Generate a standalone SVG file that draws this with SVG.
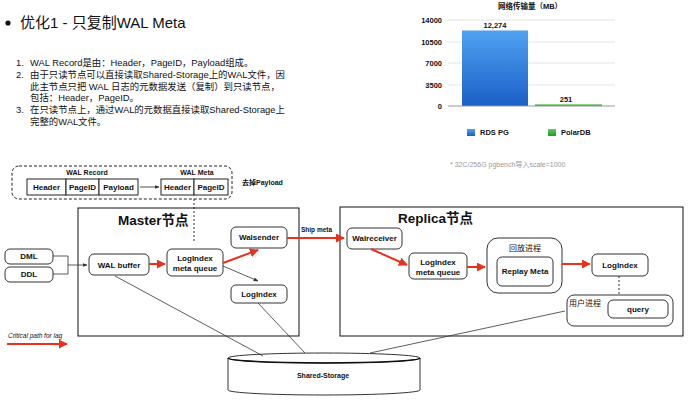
<svg xmlns="http://www.w3.org/2000/svg" width="693" height="400" viewBox="0 0 693 400">
<defs>
<style>
text{font-family:"Liberation Sans","Noto Sans CJK SC",sans-serif;fill:#111}
.b{font-weight:bold;font-size:8px;text-anchor:middle;dominant-baseline:central}
.box{fill:#fff;stroke:#333;stroke-width:1}
.cell{fill:#fff;stroke:#222;stroke-width:1}
.red{stroke:#e8321e;stroke-width:2;fill:none;marker-end:url(#ra)}
.blk{stroke:#333;stroke-width:0.8;fill:none}
.lst{font-size:9.4px}
.ax{font-size:7.5px;font-weight:bold;text-anchor:end;dominant-baseline:central}
.grid{stroke:#ddd;stroke-width:0.8}
</style>
<marker id="ra" viewBox="0 0 10 10" refX="9" refY="5" markerWidth="4.5" markerHeight="4.5" orient="auto" markerUnits="strokeWidth"><path d="M0,0L10,5L0,10z" fill="#e8321e"/></marker>
<marker id="ba" viewBox="0 0 10 10" refX="9" refY="5" markerWidth="6" markerHeight="6" orient="auto" markerUnits="strokeWidth"><path d="M0,1L10,5L0,9z" fill="#333"/></marker>
<linearGradient id="gb" x1="0" y1="0" x2="0" y2="1"><stop offset="0" stop-color="#4fa2f2"/><stop offset="1" stop-color="#1a5fc6"/></linearGradient>
<linearGradient id="gg" x1="0" y1="0" x2="0" y2="1"><stop offset="0" stop-color="#5cc85c"/><stop offset="1" stop-color="#279a2e"/></linearGradient>
</defs>
<rect width="693" height="400" fill="#fff"/>

<g id="title">
<circle cx="8" cy="23" r="2.6" fill="#111"/>
<text x="20" y="28" font-size="15">优化1 - 只复制WAL Meta</text>
</g>
<g id="list" class="lst">
<text x="16" y="66" class="lst">1.</text><text x="30" y="66" class="lst">WAL Record是由：Header，PageID，Payload组成。</text>
<text x="16" y="78" class="lst">2.</text><text x="30" y="78" class="lst">由于只读节点可以直接读取Shared-Storage上的WAL文件，因</text>
<text x="30" y="89.5" class="lst">此主节点只把 WAL 日志的元数据发送（复制）到只读节点，</text>
<text x="30" y="101" class="lst">包括：Header，PageID。</text>
<text x="16" y="113" class="lst">3.</text><text x="30" y="113" class="lst">在只读节点上，通过WAL的元数据直接读取Shared-Storage上</text>
<text x="30" y="124.5" class="lst">完整的WAL文件。</text>
</g>

<g id="chart">
<text x="530" y="6" font-size="7.5" font-weight="bold" text-anchor="middle" dominant-baseline="central">网络传输量（MB）</text>
<line class="grid" x1="448" y1="20" x2="615" y2="20"/>
<line class="grid" x1="448" y1="42" x2="615" y2="42"/>
<line class="grid" x1="448" y1="63" x2="615" y2="63"/>
<line class="grid" x1="448" y1="85" x2="615" y2="85"/>
<text class="ax" x="442" y="20">14000</text>
<text class="ax" x="442" y="42">10500</text>
<text class="ax" x="442" y="63">7000</text>
<text class="ax" x="442" y="85">3500</text>
<text class="ax" x="442" y="106">0</text>
<rect x="462" y="30.5" width="66" height="75.5" fill="url(#gb)"/>
<rect x="535" y="104.3" width="67" height="1.7" fill="url(#gg)"/>
<line x1="448" y1="106" x2="615" y2="106" stroke="#999" stroke-width="1"/>
<text x="495" y="25" font-size="7.5" font-weight="bold" text-anchor="middle" dominant-baseline="central">12,274</text>
<text x="566" y="99" font-size="7.5" font-weight="bold" text-anchor="middle" dominant-baseline="central">251</text>
<rect x="467" y="129" width="8" height="7" fill="url(#gb)"/>
<text x="480" y="132.5" font-size="7.5" font-weight="bold" dominant-baseline="central">RDS PG</text>
<rect x="548" y="129" width="8" height="7" fill="url(#gg)"/>
<text x="561" y="132.5" font-size="7.5" font-weight="bold" dominant-baseline="central">PolarDB</text>
<text x="450" y="164" font-size="7" dominant-baseline="central" style="fill:#999">* 32C/256G pgbench导入scale=1000</text>
</g>

<g id="walformat">
<rect x="12" y="166" width="220" height="33" rx="7" fill="none" stroke="#222" stroke-width="1" stroke-dasharray="3,2"/>
<text class="b" x="87" y="172" style="font-size:7px">WAL Record</text>
<rect class="cell" x="27" y="179" width="39" height="16"/>
<rect class="cell" x="66" y="179" width="33" height="16"/>
<rect class="cell" x="99" y="179" width="39" height="16"/>
<text class="b" x="46.5" y="187">Header</text>
<text class="b" x="82.5" y="187">PageID</text>
<text class="b" x="118.5" y="187">Payload</text>
<text class="b" x="197" y="172" style="font-size:7px">WAL Meta</text>
<rect class="cell" x="161" y="179" width="33" height="16"/>
<rect class="cell" x="194" y="179" width="34" height="16"/>
<text class="b" x="177.5" y="187">Header</text>
<text class="b" x="211" y="187">PageID</text>
<text x="242" y="182" font-size="7" font-weight="bold" dominant-baseline="central">去掉Payload</text>
</g>

<g id="master">
<rect x="78" y="208" width="221" height="128" fill="none" stroke="#111" stroke-width="1"/>
<text x="118" y="220" font-size="13.5" font-weight="bold" dominant-baseline="central">Master节点</text>
</g>
<g id="replica">
<rect x="340" y="207" width="343" height="129" fill="none" stroke="#111" stroke-width="1"/>
<text x="398" y="218" font-size="13.5" font-weight="bold" dominant-baseline="central">Replica节点</text>
</g>

<g id="dml"><rect class="box" x="5" y="249" width="48" height="15" rx="5"/><text class="b" x="29" y="256.5">DML</text></g>
<g id="ddl"><rect class="box" x="5" y="267" width="48" height="15" rx="5"/><text class="b" x="29" y="274.5">DDL</text></g>
<g id="walbuffer"><rect class="box" x="89" y="254" width="60" height="21" rx="5"/><text class="b" x="119" y="265">WAL buffer</text></g>
<g id="mlimq"><rect class="box" x="167" y="249" width="56" height="27" rx="5"/><text class="b" x="195" y="258">LogIndex</text><text class="b" x="195" y="268">meta queue</text></g>
<g id="walsender"><rect class="box" x="231" y="227" width="56" height="21" rx="5"/><text class="b" x="259" y="237.5">Walsender</text></g>
<g id="mlogindex"><rect class="box" x="231" y="285" width="56" height="18" rx="5"/><text class="b" x="259" y="294">LogIndex</text></g>

<g id="walreceiver"><rect class="box" x="347" y="228" width="55" height="21" rx="5"/><text class="b" x="374.5" y="238.5">Walreceiver</text></g>
<g id="rlimq"><rect class="box" x="409" y="253" width="58" height="26" rx="5"/><text class="b" x="438" y="262">LogIndex</text><text class="b" x="438" y="272">meta queue</text></g>
<g id="replay"><rect class="box" x="487" y="238" width="75" height="55" rx="11"/><text x="525" y="248" font-size="8" text-anchor="middle" dominant-baseline="central">回放进程</text>
<rect class="box" x="497" y="257" width="56" height="29" rx="5"/><text class="b" x="525" y="271.5">Replay Meta</text></g>
<g id="rlogindex"><rect class="box" x="592" y="254" width="56" height="22" rx="5"/><text class="b" x="620" y="265">LogIndex</text></g>
<g id="userproc"><rect class="box" x="567" y="295" width="106" height="31" rx="7"/><text x="569" y="303" font-size="8" dominant-baseline="central">用户进程</text>
<rect class="box" x="608" y="300" width="60" height="18" rx="5"/><text class="b" x="638" y="309.5">query</text></g>

<g id="storage">
<path d="M228,358 L228,390 A96,5 0 0 0 420,390 L420,358" fill="#fff" stroke="#333" stroke-width="1"/>
<ellipse cx="324" cy="358" rx="96" ry="5" fill="#fff" stroke="#333" stroke-width="1"/>
<path d="M228,358 A96,5 0 0 0 420,358" fill="none" stroke="#111" stroke-width="1.6"/>
<text class="b" x="323" y="375" style="font-size:7px">Shared-Storage</text>
</g>

<g id="legend">
<text x="8" y="335" font-size="6.5" font-style="italic" dominant-baseline="central">Critical path for lag</text>
<line class="red" x1="7" y1="344" x2="67" y2="344"/>
</g>

<g id="connectors">
<line x1="140" y1="187" x2="159" y2="187" stroke="#222" stroke-width="0.8" marker-end="url(#ba)"/>
<line x1="194" y1="199" x2="194" y2="242" stroke="#333" stroke-width="1" stroke-dasharray="2,2"/>
<path class="blk" d="M53,256 H68 V274 H53 M68,265 H87" marker-end="url(#ba)"/>
<line class="red" x1="149" y1="264" x2="165" y2="264"/>
<line class="red" x1="223" y1="263" x2="258" y2="250"/>
<line class="blk" x1="223" y1="266" x2="258" y2="281" marker-end="url(#ba)"/>
<line class="red" x1="287" y1="238" x2="344" y2="238"/>
<text x="301" y="229" font-size="6.5" font-weight="bold" dominant-baseline="central">Ship meta</text>
<line class="red" x1="371" y1="249" x2="407" y2="265"/>
<line class="red" x1="467" y1="267" x2="485" y2="267"/>
<line class="red" x1="562" y1="264" x2="590" y2="264"/>
<line x1="619" y1="276" x2="619" y2="295" stroke="#333" stroke-width="1" stroke-dasharray="2,2"/>
<line class="blk" x1="115" y1="276" x2="263" y2="356"/>
<line class="blk" x1="258" y1="303" x2="305" y2="353"/>
<line class="blk" x1="565" y1="311" x2="370" y2="353"/>
</g>
</svg>
